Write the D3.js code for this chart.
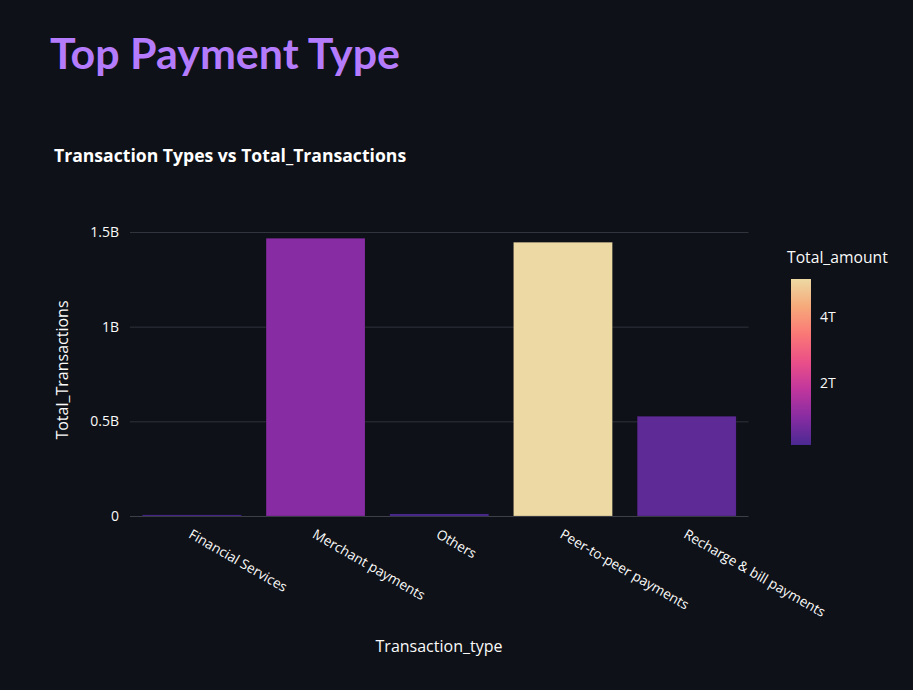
<!DOCTYPE html>
<html><head><meta charset="utf-8">
<script src="https://cdn.jsdelivr.net/npm/d3@7"></script>
<style>
html,body{margin:0;padding:0;background:#0e1117;}
svg{display:block;}
</style></head>
<body>
<svg id="c" width="913" height="690"></svg>
<script>
const categories = ["Financial Services","Merchant payments","Others","Peer-to-peer payments","Recharge & bill payments"];
const totalTransactions = [0.006e9, 1.467e9, 0.011e9, 1.446e9, 0.527e9];
const totalAmount = [0.095e12, 0.94e12, 0.11e12, 5.17e12, 0.36e12];
const yTicks = [0, 0.5e9, 1e9, 1.5e9];
const yTickLabels = ["0","0.5B","1B","1.5B"];
const cbTicks = [2e12, 4e12];
const cbTickLabels = ["2T","4T"];
const agsunset = ["rgb(75,41,145)","rgb(135,44,162)","rgb(192,54,157)","rgb(234,79,136)","rgb(250,120,118)","rgb(246,169,122)","rgb(237,217,163)"];

const svg = d3.select("#c");
const font = "'Open Sans', 'Noto Sans', sans-serif";
const txt = "#fafafa";

svg.append("rect").attr("width",913).attr("height",690).attr("fill","#0e1117");

svg.append("text").attr("x",50).attr("y",69).attr("fill","#b47cfc")
  .attr("font-family","Lato, sans-serif").attr("font-weight",700).attr("font-size",42)
  .attr("textLength",350).attr("lengthAdjust","spacingAndGlyphs")
  .text("Top Payment Type");

svg.append("text").attr("x",54).attr("y",162).attr("fill","#ffffff")
  .attr("font-family",font).attr("font-weight",700).attr("font-size",17.6)
  .text("Transaction Types vs Total_Transactions");

const L=130, R=748.5, T=232, B=516;
const x = d3.scaleBand().domain(categories).range([L,R]).paddingInner(0.2).paddingOuter(0.1);
const y = d3.scaleLinear().domain([0,1.5e9]).range([B,T]);
const cmin = d3.min(totalAmount), cmax = d3.max(totalAmount);
const color = d3.scaleLinear().domain(d3.range(7).map(i=>cmin+(cmax-cmin)*i/6)).range(agsunset).interpolate(d3.interpolateRgb);

// grid
const yAxis = d3.axisLeft(y).tickValues(yTicks).tickFormat((d,i)=>yTickLabels[i]).tickSize(-(R-L)).tickPadding(11);
const gy = svg.append("g").attr("transform",`translate(${L},0)`).call(yAxis);
gy.select(".domain").remove();
gy.selectAll("line").attr("stroke","#31333d").attr("stroke-width",1);
gy.selectAll("text").attr("fill",txt).attr("font-family",font).attr("font-size",14);
gy.selectAll(".tick").filter(d=>d===0).select("line").attr("stroke","#3d3f49");

// bars
svg.append("g").selectAll("rect").data(categories).join("rect")
  .attr("x",d=>x(d)).attr("width",x.bandwidth())
  .attr("y",(d,i)=>y(totalTransactions[i])).attr("height",(d,i)=>B-y(totalTransactions[i]))
  .attr("fill",(d,i)=>color(totalAmount[i]))
  .attr("stroke","#0e1117").attr("stroke-opacity",0.35).attr("stroke-width",0.5);

// x axis
const xAxis = d3.axisBottom(x).tickSize(0).tickPadding(0);
const gx = svg.append("g").attr("transform",`translate(0,${B})`).call(xAxis);
gx.select(".domain").remove();
gx.selectAll("text").attr("fill",txt).attr("font-family",font).attr("font-size",13.6)
  .attr("text-anchor","start").attr("dy",0).attr("y",0)
  .attr("transform","translate(-4,21) rotate(30)");

svg.append("text").attr("x",439).attr("y",652).attr("text-anchor","middle").attr("fill",txt)
  .attr("font-family",font).attr("font-size",16).text("Transaction_type");
svg.append("text").attr("transform","translate(68,370) rotate(-90)").attr("text-anchor","middle").attr("fill",txt)
  .attr("font-family",font).attr("font-size",16).text("Total_Transactions");

// colorbar
const cbX=791, cbW=20, cbT=279, cbB=445;
const defs = svg.append("defs");
const grad = defs.append("linearGradient").attr("id","cbg").attr("x1",0).attr("y1",1).attr("x2",0).attr("y2",0);
agsunset.forEach((c,i)=>grad.append("stop").attr("offset",i/6).attr("stop-color",c));
svg.append("rect").attr("x",cbX).attr("y",cbT).attr("width",cbW).attr("height",cbB-cbT).attr("fill","url(#cbg)");
const cy = d3.scaleLinear().domain([cmin,cmax]).range([cbB,cbT]);
const cAxis = d3.axisRight(cy).tickValues(cbTicks).tickFormat((d,i)=>cbTickLabels[i]).tickSize(0).tickPadding(9);
const gc = svg.append("g").attr("transform",`translate(${cbX+cbW},0)`).call(cAxis);
gc.select(".domain").remove();
gc.selectAll("text").attr("fill",txt).attr("font-family",font).attr("font-size",14);
svg.append("text").attr("x",787).attr("y",263).attr("fill",txt).attr("font-family",font).attr("font-size",15.7).text("Total_amount");
</script>
</body></html>
